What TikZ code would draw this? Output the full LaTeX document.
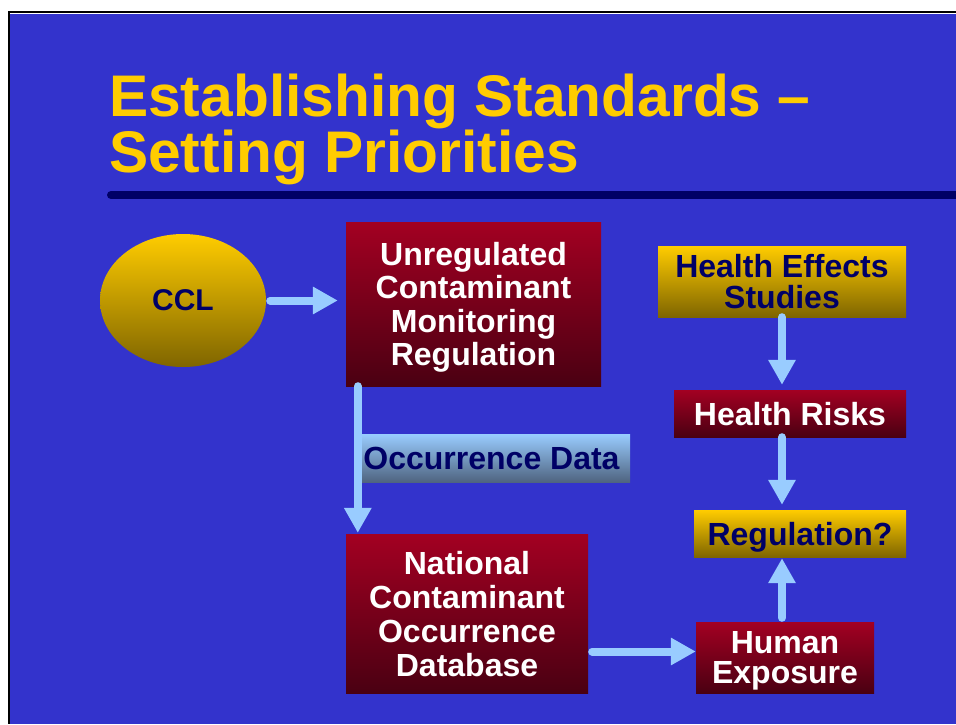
\documentclass[tikz,border=0pt]{standalone}
\usepackage{fontspec}
\setmainfont{Liberation Sans}
\usetikzlibrary{shapes.geometric,arrows.meta,calc}
\definecolor{bg}{HTML}{3333CC}
\definecolor{titleyellow}{HTML}{FFCC00}
\definecolor{navy}{HTML}{000066}
\definecolor{lightblue}{HTML}{99CCFF}
\definecolor{redtop}{HTML}{A30022}
\definecolor{redbot}{HTML}{4A0012}
\definecolor{goldtop}{HTML}{FFCC00}
\definecolor{goldbot}{HTML}{7F6500}
\definecolor{steelbot}{HTML}{4F6480}
\begin{document}
\begin{tikzpicture}[x=1pt,y=-1pt,
  box/.style={rectangle, inner sep=0pt, align=center, text depth=0pt, font=\bfseries\fontsize{32}{33}\selectfont},
  redbox/.style={box, top color=redtop, bottom color=redbot, text=white},
  goldbox/.style={box, top color=goldtop, bottom color=goldbot, text=navy},
  arr/.style={draw=lightblue, line width=8pt, line cap=round, -{Triangle[width=26pt,length=25pt]}},
  titletext/.style={anchor=base west, inner sep=0pt, text=titleyellow, font=\bfseries\fontsize{58.7}{56}\selectfont}
]
\useasboundingbox (0,0) rectangle (956,724);
\fill[white] (0,0) rectangle (956,724);
\fill[black] (7.5,10.5) rectangle (956,724);
\fill[white] (9.5,12.5) rectangle (956,724);
\fill[bg] (10,13.5) rectangle (956,724);

\node[titletext] (title1) at (109,116) {Establishing Standards –};
\node[titletext] (title2) at (109,172) {Setting Priorities};
\draw[navy, line width=8pt, line cap=round] (111,195) -- (962,195);

\node[goldbox, ellipse, inner sep=0pt, minimum width=166pt, minimum height=133pt,
      font=\bfseries\fontsize{30}{31}\selectfont] (ccl) at (183,300.5) {CCL};
\node[redbox, minimum width=255pt, minimum height=164pt,
      font=\bfseries\fontsize{32}{33.5}\selectfont] (ucmr) at (473.5,304)
      {Unregulated\\Contaminant\\Monitoring\\Regulation};
\node[box, top color=lightblue, bottom color=steelbot, text=navy,
      minimum width=268pt, minimum height=48pt] (od) at (496,458) {\hspace*{-9pt}Occurrence Data};
\node[redbox, minimum width=242pt, minimum height=159pt,
      font=\bfseries\fontsize{32}{34}\selectfont] (ncod) at (467,613.5)
      {National\\Contaminant\\Occurrence\\Database};
\node[goldbox, minimum width=248pt, minimum height=71pt,
      font=\bfseries\fontsize{32}{31}\selectfont] (hes) at (782,281.5) {Health Effects\\Studies};
\node[redbox, minimum width=232pt, minimum height=47pt] (hr) at (790,413.5) {Health Risks};
\node[goldbox, minimum width=212pt, minimum height=47pt] (reg) at (800,533.5) {Regulation?};
\node[redbox, minimum width=178pt, minimum height=71pt,
      font=\bfseries\fontsize{32}{30}\selectfont] (he) at (785,657.5) {Human\\Exposure};

\draw[arr, shorten <=4pt, shorten >=8pt] (ccl.east) -- (ccl.east -| ucmr.west);
\draw[arr, shorten >=1pt] ([xshift=12pt]ucmr.south west) -- ([xshift=12pt]ucmr.south west |- ncod.north);
\draw[arr, shorten >=5pt] (hes.south) -- (hes.south |- hr.north);
\draw[arr, shorten >=5pt] (hes.south |- hr.south) -- (hes.south |- reg.north);
\draw[arr, shorten <=4pt, shorten >=1pt] (hes.south |- he.north) -- (hes.south |- reg.south);
\draw[arr, shorten <=4pt] ($(ncod.east |- he.west)+(0,-6)$) -- ($(he.west)+(0,-6)$);
\end{tikzpicture}
\end{document}
